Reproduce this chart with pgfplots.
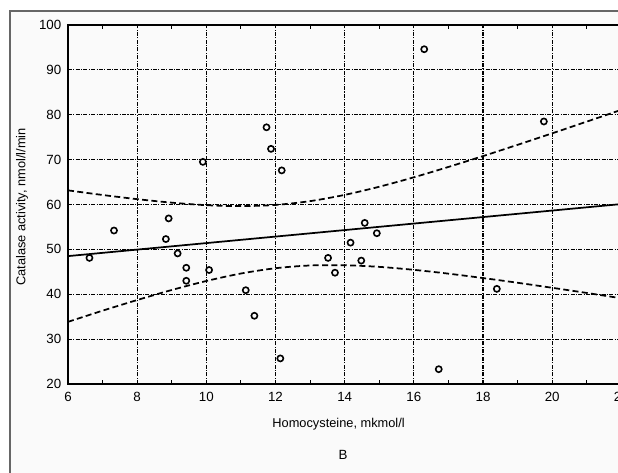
\documentclass[border=0pt]{standalone}
\usepackage{pgfplots}
\pgfplotsset{compat=1.18}
\usepackage{fontspec}
\setmainfont{Liberation Sans}
\begin{document}
\begin{tikzpicture}
\useasboundingbox (0,0) rectangle (463.5pt,354.75pt);
\clip (0,0) rectangle (463.5pt,354.75pt);
\fill[white] (0,0) rectangle (463.5pt,354.75pt);
\filldraw[fill=black!2, draw=black!60, line width=0.8pt] (7.5pt,-20pt) rectangle (500pt,346.5pt);
\begin{axis}[
  at={(51pt,66.75pt)}, anchor=south west,
  scale only axis, width=415pt, height=269.25pt,
  xmin=6, xmax=22, ymin=20, ymax=100,
  xtick={6,8,...,22}, ytick={20,30,...,100},
  minor xtick={7,9,...,21},
  xtick pos=both, ytick pos=left,
  tick align=inside,
  major tick length=0pt, minor tick length=3pt,
  tick style={black, line width=0.7pt},
  grid=major,
  major grid style={black, line width=0.8pt, dash pattern=on 3pt off 1pt on 0.8pt off 1pt},
  axis line style={line width=1.7pt},
  /pgf/number format/assume math mode=true,
  ticklabel style={font=\fontsize{10}{12}\selectfont},
  xticklabel style={yshift=-2.5pt},
  yticklabel style={xshift=-1.5pt},
  xlabel={Homocysteine, mkmol/l},
  ylabel={Catalase activity, nmol/l/min},
  label style={font=\fontsize{9.6}{11}\selectfont},
  xlabel style={at={(axis description cs:0.489,0)}, anchor=center, yshift=-30.5pt},
  ylabel style={at={(axis description cs:0,0.493)}, anchor=center, yshift=34.5pt},
]
\addplot[only marks, mark=o, mark size=2.3pt, mark options={line width=1.2pt, black}] coordinates {
(6.62,48.1) (7.33,54.2) (8.91,56.9) (8.83,52.3) (9.17,49.1) (9.42,45.9) (9.42,43.0)
(10.08,45.4) (11.14,40.9) (11.39,35.2) (12.14,25.7)
(11.74,77.2) (11.87,72.4) (12.18,67.6) (9.90,69.5)
(14.58,55.9) (14.93,53.6) (14.17,51.5) (13.52,48.1) (14.48,47.5) (13.72,44.8)
(16.30,94.6) (19.76,78.5) (16.72,23.3) (18.40,41.2)
};
\addplot[black, line width=1.3pt] coordinates {(6,48.5) (22,60.1)};
\addplot[black, line width=1.3pt, dash pattern=on 4.5pt off 2.5pt, smooth] coordinates {
(6,63.15) (7,62.12) (8,61.19) (9,60.41) (10,59.85) (11,59.64) (12,59.9) (13,60.75)
(14,62.14) (15,63.96) (16,66.06) (17,68.37) (18,70.79) (19,73.3) (20,75.86) (21,78.47) (22,81.1)
};
\addplot[black, line width=1.3pt, dash pattern=on 4.5pt off 2.5pt, smooth] coordinates {
(6,33.85) (7,36.34) (8,38.71) (9,40.95) (10,42.95) (11,44.62) (12,45.8) (13,46.41)
(14,46.46) (15,46.1) (16,45.44) (17,44.59) (18,43.61) (19,42.56) (20,41.44) (21,40.29) (22,39.1)
};
\end{axis}
\node[font=\fontsize{10}{12}\selectfont] at (257.25pt,13.5pt) {B};
\end{tikzpicture}
\end{document}
